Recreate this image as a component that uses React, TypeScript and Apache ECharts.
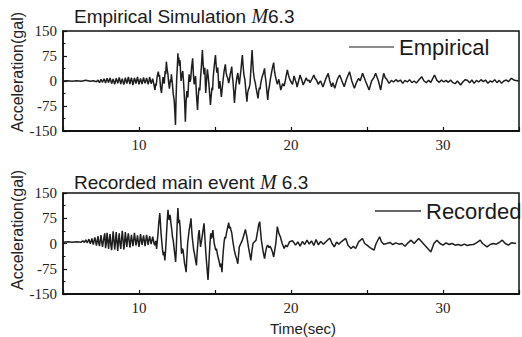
import React, { useEffect, useRef } from "react";
import * as echarts from "echarts";

// ---- Data (time in s, acceleration in gal) ----
const timeTicks = [10, 20, 30];
const accelTicks = [-150, -75, 0, 75, 150];

const empiricalPreEvent: [number, number][] = [
  [5.0, 0], [5.3, 1], [5.6, -1], [5.9, 1], [6.2, -1], [6.5, 2], [6.8, -1], [7.0, 1], [7.2, -2],
  [7.3, 3], [7.35, -2], [7.4, -5], [7.5, 5], [7.55, 0], [7.6, -4], [7.7, 7], [7.8, -6], [7.85, 2],
  [7.9, 8], [8.0, -5], [8.05, 3], [8.1, 9], [8.2, -8], [8.3, 6], [8.35, -2], [8.4, -10], [8.5, 8],
  [8.55, 1], [8.6, -7], [8.7, 11], [8.8, -9], [8.85, 0], [8.9, 7], [9.0, -11], [9.05, -2],
  [9.1, 10], [9.2, -8], [9.25, 2], [9.3, 12], [9.4, -9], [9.5, 10], [9.55, 0], [9.6, -12],
  [9.7, 9], [9.75, 2], [9.8, -8], [9.9, 12], [10.0, -10], [10.05, -1], [10.1, 8], [10.2, -9],
  [10.3, 11], [10.35, 0], [10.4, -7], [10.5, 9], [10.6, -10], [10.65, -2], [10.7, 12],
  [10.8, -8], [10.9, 7],
];
const empiricalStrong: [number, number][] = [
  [11.0, -15], [11.05, -27], [11.1, -8], [11.13, -14], [11.2, 15], [11.27, 28], [11.32, 12],
  [11.35, 18], [11.42, -20], [11.48, -36], [11.53, -10], [11.58, 12], [11.62, 0], [11.66, -8],
  [11.72, 30], [11.76, 20], [11.8, 58], [11.85, 35], [11.9, 22], [11.95, -5], [12.0, -23],
  [12.04, -8], [12.07, 5], [12.1, -3], [12.13, 20], [12.19, -5], [12.25, -38], [12.32, -60],
  [12.4, -132], [12.44, -50], [12.48, 8], [12.52, 40], [12.56, 83], [12.59, 55], [12.62, 70],
  [12.66, 45], [12.7, 62], [12.74, 20], [12.77, 0], [12.82, 18], [12.88, 30], [12.92, 5],
  [12.95, -18], [13.0, -60], [13.05, -122], [13.1, -60], [13.15, -30], [13.19, -50],
  [13.22, -45], [13.26, -5], [13.3, 20], [13.35, -2], [13.4, 5], [13.46, 40], [13.53, 68],
  [13.58, 20], [13.63, -10], [13.68, 5], [13.72, 15], [13.78, -40], [13.85, -87], [13.9, -45],
  [13.95, -20], [14.0, -28], [14.05, 10], [14.1, 40], [14.17, 93], [14.22, 50], [14.28, 20],
  [14.33, 40], [14.36, 0], [14.39, -36], [14.44, 0], [14.5, 35], [14.55, 15], [14.6, -10],
  [14.65, -40], [14.7, -72], [14.75, -45], [14.8, -20], [14.84, -28], [14.88, 10], [14.95, 45],
  [15.03, 78], [15.08, 45], [15.12, 25], [15.18, 40], [15.22, 10], [15.25, -23], [15.29, -8],
  [15.32, 0], [15.37, -25], [15.42, -48], [15.48, -20], [15.55, 10], [15.6, 30], [15.68, 50],
  [15.73, 25], [15.78, 15], [15.84, 8], [15.9, -6], [15.95, 5], [16.0, 20], [16.05, 30],
  [16.1, 43], [16.14, 15], [16.18, 0], [16.23, -30], [16.28, -66], [16.33, -35], [16.38, -10],
  [16.44, 10], [16.5, 24], [16.55, 5], [16.6, -10], [16.65, 10], [16.7, 30], [16.75, 55],
  [16.8, 78], [16.85, 45], [16.9, 20], [16.94, 10], [16.97, 3], [17.03, -30], [17.1, -62],
  [17.15, -35], [17.2, -25], [17.25, -20], [17.3, -10], [17.37, 40], [17.44, 93], [17.48, 60],
  [17.52, 30], [17.56, 15], [17.6, 3], [17.65, -5], [17.7, -20], [17.76, -35], [17.83, -52],
  [17.88, -30], [17.92, -20], [17.96, -25], [18.0, -10], [18.06, 5], [18.12, 15], [18.19, 25],
  [18.26, 38], [18.3, 15], [18.35, 0], [18.41, -30], [18.47, -57], [18.52, -30], [18.58, -15],
  [18.64, 5], [18.7, 20], [18.78, 40], [18.86, 55], [18.9, 35], [18.95, 20], [19.02, 5],
  [19.1, -10], [19.15, -2], [19.2, 5], [19.26, -10], [19.33, -27], [19.4, -15], [19.45, -8],
  [19.5, -12], [19.55, -15], [19.62, 0], [19.7, 20], [19.76, 33], [19.82, 20], [19.88, 10],
  [19.97, 0], [20.05, -6], [20.1, -10], [20.15, 2], [20.2, 15], [20.25, 8], [20.3, 0],
  [20.35, -6], [20.4, -18], [20.5, 0], [20.6, 18], [20.65, 10], [20.7, 5], [20.8, -12],
  [20.9, -2], [21.0, 10], [21.05, 4], [21.1, 0], [21.18, 3], [21.25, -5], [21.38, 6],
  [21.5, 18], [21.58, 8], [21.65, 5], [21.72, -2], [21.8, -10], [21.88, -3], [21.95, 0],
  [22.02, -8], [22.1, -18], [22.2, -5], [22.3, 8],
];
const empiricalCoda: [number, number][] = [
  [22.45, 23], [22.55, 0], [22.67, -17], [22.75, -5], [22.88, -22], [23.05, 5], [23.2, 18],
  [23.35, 0], [23.5, -17], [23.65, 5], [23.85, 28], [24.0, 0], [24.17, -22], [24.3, -5],
  [24.45, 8], [24.55, 0], [24.71, 23], [24.9, 0], [25.14, -27], [25.3, 0], [25.45, 10],
  [25.57, 23], [25.75, 0], [25.9, -27], [26.0, 0], [26.1, 23], [26.2, 10], [26.3, 5],
  [26.45, -7], [26.6, 2], [26.75, -3], [26.9, 4], [27.05, -2], [27.2, 3], [27.35, -7],
  [27.5, 2], [27.65, -3], [27.8, 4], [27.95, -5], [28.1, 0], [28.25, -6], [28.45, 5],
  [28.6, 13], [28.75, 0], [28.9, -5], [29.05, 2], [29.2, -4], [29.44, 18], [29.6, 2],
  [29.76, -4], [29.9, 3], [30.05, -3], [30.2, 2], [30.35, -4], [30.5, 3], [30.65, -5],
  [30.8, -8], [30.95, 0], [31.16, -12], [31.3, -3], [31.45, 4], [31.6, 2], [31.75, -5],
  [31.9, 3], [32.05, -7], [32.2, 2], [32.35, -3], [32.5, 4], [32.65, -2], [32.8, 3],
  [32.95, -7], [33.1, 0], [33.25, -3], [33.4, 4], [33.55, -5], [33.7, 2], [33.85, -7],
  [34.0, 0], [34.17, 3], [34.3, -2], [34.5, 8], [34.7, 2], [35.0, 0],
];

const recordedPreEvent: [number, number][] = [
  [5.0, 4], [5.3, 5], [5.6, 4], [5.9, 5], [6.2, 4], [6.3, 8], [6.4, 3], [6.5, 11], [6.55, 5],
  [6.6, 2], [6.7, 13], [6.75, 6], [6.8, -1], [6.9, 15], [6.95, 4], [7.0, -3], [7.05, 10],
  [7.1, 18], [7.2, -6], [7.25, 8], [7.3, 22], [7.35, 2], [7.4, -8], [7.5, 25], [7.55, 5],
  [7.6, -10], [7.7, 20], [7.75, 30], [7.8, -14], [7.85, 0], [7.9, 32], [8.0, -16], [8.05, 12],
  [8.1, 28], [8.15, -5], [8.2, -20], [8.3, 36], [8.35, 10], [8.4, -18], [8.45, 5], [8.5, 34],
  [8.6, -22], [8.65, 8], [8.7, 30], [8.75, 0], [8.8, -16], [8.9, 38], [8.95, 12], [9.0, -18],
  [9.05, 2], [9.1, 34], [9.2, -10], [9.25, 14], [9.3, 30], [9.4, -12], [9.45, 6], [9.5, 26],
  [9.6, -8], [9.65, 10], [9.7, 32], [9.8, -6], [9.85, 8], [9.9, 24], [10.0, -10], [10.05, 6],
  [10.1, 28], [10.2, -4], [10.3, 24], [10.35, 8], [10.4, -8], [10.5, 26], [10.6, -4],
  [10.65, 10], [10.7, 22], [10.8, -2], [10.9, 20], [11.0, -2],
];
const recordedStrong: [number, number][] = [
  [11.05, -5], [11.1, 8], [11.16, -16], [11.2, 5], [11.25, 30], [11.3, 60], [11.37, 90],
  [11.41, 60], [11.45, 30], [11.5, 5], [11.55, -20], [11.6, -35], [11.65, -25], [11.7, -50],
  [11.75, -20], [11.8, 20], [11.86, 70], [11.91, 100], [11.95, 75], [12.0, 70], [12.03, 85],
  [12.06, 80], [12.1, 60], [12.13, 50], [12.17, 35], [12.2, 20], [12.25, 10], [12.3, -10],
  [12.35, -30], [12.41, -55], [12.45, -20], [12.48, 20], [12.52, 70], [12.56, 105],
  [12.59, 80], [12.62, 60], [12.66, 70], [12.7, 50], [12.75, 10], [12.8, -30], [12.85, -15],
  [12.9, -20], [12.95, -40], [13.0, -60], [13.05, -70], [13.1, -85], [13.15, -40], [13.2, 0],
  [13.25, 20], [13.3, 40], [13.36, 55], [13.42, 75], [13.46, 45], [13.5, 20], [13.55, 0],
  [13.6, -20], [13.65, -30], [13.7, -45], [13.78, -65], [13.82, -30], [13.87, 0], [13.91, 25],
  [13.96, 40], [14.0, 15], [14.05, -10], [14.08, 0], [14.12, 10], [14.2, 35], [14.28, 60],
  [14.33, 20], [14.4, -30], [14.47, -70], [14.54, -108], [14.58, -75], [14.62, -40],
  [14.67, 0], [14.72, 30], [14.76, 15], [14.8, 20], [14.86, 40], [14.9, 20], [14.95, 0],
  [15.0, -10], [15.05, -20], [15.1, -15], [15.15, -30], [15.2, -40], [15.28, -55],
  [15.35, -70], [15.4, -60], [15.46, -85], [15.5, -50], [15.55, -20], [15.6, 5], [15.65, 20],
  [15.7, 15], [15.75, 30], [15.82, 45], [15.9, 62], [15.95, 45], [16.0, 50], [16.05, 40],
  [16.1, 32], [16.18, 5], [16.27, -20], [16.35, -35], [16.42, -45], [16.5, -60], [16.55, -35],
  [16.6, -10], [16.65, -5], [16.7, 0], [16.75, 5], [16.8, 10], [16.9, 25], [17.0, 42],
  [17.05, 30], [17.1, 20], [17.15, 5], [17.2, -10], [17.28, -30], [17.36, -50], [17.42, -25],
  [17.5, 0], [17.6, 5], [17.7, 10], [17.8, 35], [17.87, 55], [17.94, 65], [18.0, 35],
  [18.05, 10], [18.15, -20], [18.26, -45], [18.33, -25], [18.4, -10], [18.47, -5],
  [18.55, -12], [18.62, -8], [18.7, -15], [18.78, -25], [18.86, -40], [18.93, -20], [19.0, 0],
  [19.05, 25], [19.1, 50], [19.15, 40], [19.2, 30], [19.25, 25], [19.3, 20], [19.42, 0],
  [19.55, -15], [19.65, -5], [19.75, -10], [19.9, 5],
];
const recordedCoda: [number, number][] = [
  [20.1, 8], [20.2, 2], [20.3, -5], [20.45, 5], [20.6, -8], [20.75, 6], [20.9, -3], [21.05, 10],
  [21.2, -2], [21.35, 8], [21.5, -6], [21.65, 12], [21.8, -4], [21.95, 6], [22.13, -2],
  [22.3, 5], [22.45, 12], [22.56, 15], [22.7, 0], [22.85, -10], [23.0, 4], [23.15, -2],
  [23.3, 5], [23.45, 10], [23.6, 15], [23.75, -5], [23.95, -15], [24.1, -8], [24.25, -15],
  [24.45, 5], [24.7, 15], [24.85, 0], [25.0, -5], [25.2, -12], [25.46, -20], [25.6, 0],
  [25.83, 20], [25.95, 5], [26.1, -2], [26.3, 0], [26.5, 3], [26.7, -3], [26.9, 2],
  [27.1, -2], [27.3, 0], [27.5, -8], [27.7, 2], [27.9, 10], [28.1, 0], [28.4, 15], [28.6, 5],
  [28.8, -5], [29.0, -15], [29.2, -25], [29.4, 0], [29.6, 10], [29.8, 0], [30.0, -5],
  [30.2, 2], [30.4, -3], [30.6, 0], [30.8, -5], [31.0, -3], [31.2, -6], [31.4, -2],
  [31.6, -6], [31.8, -4], [32.0, -3], [32.2, 2], [32.45, 10], [32.6, 0], [32.9, -10],
  [33.1, -3], [33.3, 0], [33.5, -2], [33.7, 3], [33.9, 10], [34.1, 0], [34.3, -5], [34.5, 2],
  [34.8, 0],
];

const empiricalSeries = [...empiricalPreEvent, ...empiricalStrong, ...empiricalCoda];
const recordedSeries = [...recordedPreEvent, ...recordedStrong, ...recordedCoda];

const SERIF = "Liberation Serif, Times New Roman, serif";
const SANS = "Liberation Sans, Arial, sans-serif";
const INK = "#1e1e1e";

function makeXAxis(gridIndex: number) {
  return {
    type: "value",
    gridIndex,
    min: 5,
    max: 35,
    interval: 5,
    axisLine: { show: true, onZero: false, lineStyle: { color: "#111", width: 2 } },
    axisTick: { show: true, inside: true, length: 4, lineStyle: { color: "#111", width: 1.2 } },
    axisLabel: {
      margin: 6,
      fontFamily: SERIF,
      fontSize: 15,
      color: "#222",
      formatter: (v: number) => (timeTicks.includes(v) ? String(v) : ""),
    },
    splitLine: { show: false },
  };
}

function makeYAxis(gridIndex: number) {
  return {
    type: "value",
    gridIndex,
    min: accelTicks[0],
    max: accelTicks[accelTicks.length - 1],
    interval: 75,
    axisLine: { show: true, onZero: false, lineStyle: { color: "#111", width: 1.5 } },
    axisTick: { show: true, inside: true, length: 4, lineStyle: { color: "#111", width: 1.2 } },
    minorTick: { show: true, splitNumber: 2, length: 2.5, lineStyle: { color: "#111", width: 1 } },
    axisLabel: { margin: 6, fontFamily: SERIF, fontSize: 15, color: "#222" },
    splitLine: { show: false },
  };
}

const titleRich = {
  a: { fontFamily: SANS, fontSize: 19, fontWeight: "normal", color: "#1a1a1a" },
  m: { fontFamily: SERIF, fontStyle: "italic", fontWeight: "normal", fontSize: 20, color: "#1a1a1a" },
};

export default function App() {
  const ref = useRef<HTMLDivElement>(null);
  useEffect(() => {
    if (!ref.current) return;
    const chart = echarts.init(ref.current, null, { renderer: "svg" });
    chart.setOption({
      animation: false,
      backgroundColor: "#fff",
      title: [
        {
          text: "{a|Empirical Simulation }{m|M}{a|6.3}",
          left: 74,
          top: 6,
          padding: 0,
          textStyle: { fontWeight: "normal", rich: titleRich },
        },
        {
          text: "{a|Recorded main event }{m|M}{a| 6.3}",
          left: 74,
          top: 172,
          padding: 0,
          textStyle: { fontWeight: "normal", rich: titleRich },
        },
      ],
      legend: [
        {
          data: ["Empirical"],
          left: 349,
          top: 36,
          padding: 0,
          icon: "rect",
          itemWidth: 45,
          itemHeight: 1.5,
          itemStyle: { color: "#666" },
          textStyle: { fontFamily: SANS, fontSize: 22, color: "#1a1a1a" },
        },
        {
          data: ["Recorded"],
          left: 375,
          top: 200,
          padding: 0,
          icon: "rect",
          itemWidth: 46,
          itemHeight: 1.5,
          itemStyle: { color: "#333" },
          textStyle: { fontFamily: SANS, fontSize: 22, color: "#1a1a1a" },
        },
      ],
      grid: [
        { left: 63, right: -8, top: 31, height: 100, show: true, borderColor: "#111", borderWidth: 1.5, backgroundColor: "transparent" },
        { left: 63, right: -8, top: 193, height: 101, show: true, borderColor: "#111", borderWidth: 1.5, backgroundColor: "transparent" },
      ],
      xAxis: [makeXAxis(0), makeXAxis(1)],
      yAxis: [makeYAxis(0), makeYAxis(1)],
      series: [
        {
          name: "Empirical",
          type: "line",
          xAxisIndex: 0,
          yAxisIndex: 0,
          data: empiricalSeries,
          showSymbol: false,
          clip: true,
          lineStyle: { color: INK, width: 1.5 },
          itemStyle: { color: INK },
        },
        {
          name: "Recorded",
          type: "line",
          xAxisIndex: 1,
          yAxisIndex: 1,
          data: recordedSeries,
          showSymbol: false,
          clip: true,
          lineStyle: { color: INK, width: 1.5 },
          itemStyle: { color: INK },
        },
      ],
      graphic: [
        {
          type: "text",
          x: 17,
          y: 72,
          rotation: Math.PI / 2,
          style: {
            text: "Acceleration(gal)",
            fontFamily: SANS,
            fontSize: 16,
            fill: "#222",
            align: "center",
            verticalAlign: "middle",
          },
        },
        {
          type: "text",
          x: 17,
          y: 230,
          rotation: Math.PI / 2,
          style: {
            text: "Acceleration(gal)",
            fontFamily: SANS,
            fontSize: 16,
            fill: "#222",
            align: "center",
            verticalAlign: "middle",
          },
        },
        {
          type: "text",
          x: 303,
          y: 328,
          style: {
            text: "Time(sec)",
            fontFamily: SANS,
            fontSize: 15,
            fill: "#222",
            align: "center",
            verticalAlign: "middle",
          },
        },
      ],
    });
    return () => chart.dispose();
  }, []);
  return (
    <div
      ref={ref}
      style={{ position: "absolute", left: 0, top: 0, width: 522, height: 337, overflow: "hidden" }}
    />
  );
}
